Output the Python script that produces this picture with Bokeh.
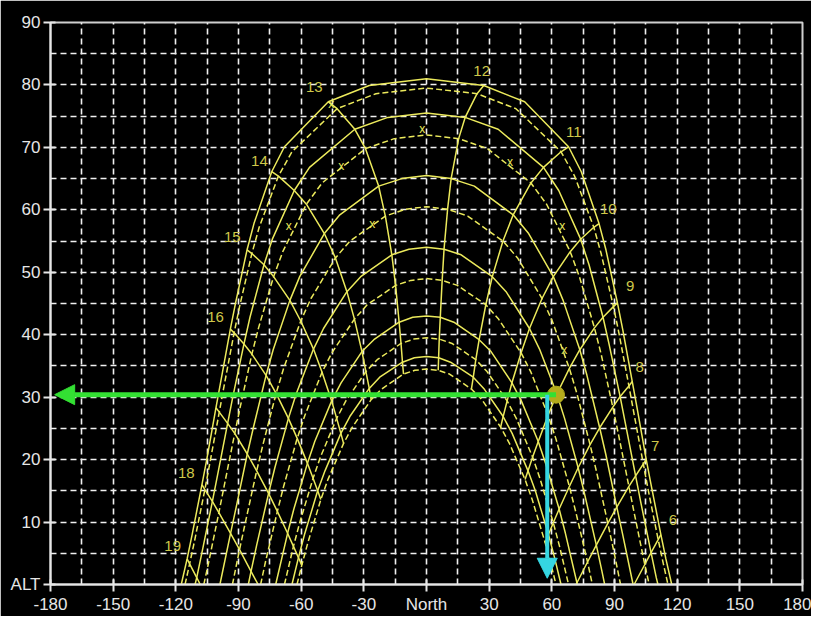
from bokeh.plotting import figure
from bokeh.models import Range1d, FixedTicker, SingleIntervalTicker, Arrow, NormalHead
from bokeh.embed import file_html
from bokeh.resources import INLINE
from bokeh.core.properties import value

# ---------------- data ----------------
# hour angle (deg from solar noon) at which every day path was read
H_STEPS = [0, 5, 10, 20, 25, 35, 40, 50, 55, 65, 70, 80, 85, 95, 100]

# day paths: azimuth (deg east of North) and altitude at H_STEPS; None = below horizon
p81_az  = [0, 27.4, 47.0, 68.0, 74.1, 82.6, 85.9, 91.4, 93.9, 98.5, 100.8, 105.2, 107.5, 112.2, 114.6]
p81_alt = [81.0, 79.9, 77.3, 70.1, 66.1, 57.8, 53.6, 45.1, 40.9, 32.5, 28.3, 20.0, 16.0, 8.0, 4.1]
p79_az  = [0, 24.2, 42.8, 64.4, 70.9, 80.1, 83.6, 89.5, 92.1, 96.9, 99.2, 103.8, 106.1, 110.9, 113.4]
p79_alt = [79.5, 78.6, 76.2, 69.3, 65.4, 57.2, 53.0, 44.5, 40.3, 31.8, 27.6, 19.3, 15.2, 7.2, 3.3]
p75_az  = [0, 18.5, 34.3, 56.0, 63.3, 73.8, 77.8, 84.5, 87.4, 92.7, 95.2, 100.1, 102.5, 107.5, 110.0]
p75_alt = [75.5, 74.8, 72.9, 66.8, 63.1, 55.3, 51.2, 42.8, 38.5, 30.1, 25.8, 17.4, 13.3, 5.1, 1.1]
p72_az  = [0, 15.4, 29.2, 50.0, 57.5, 68.8, 73.2, 80.4, 83.6, 89.2, 91.8, 96.9, 99.4, 104.5, None]
p72_alt = [72.0, 71.4, 69.8, 64.3, 60.9, 53.3, 49.3, 41.1, 36.9, 28.4, 24.2, 15.7, 11.5, 3.2, None]
p65_az  = [0, 11.8, 22.9, 41.5, 48.9, 60.7, 65.4, 73.4, 76.8, 82.9, 85.8, 91.1, 93.8, None, None]
p65_alt = [65.5, 65.0, 63.8, 59.2, 56.2, 49.3, 45.5, 37.6, 33.5, 25.1, 20.9, 12.4, 8.2, None, None]
p60_az  = [0, 10.1, 19.7, 36.6, 43.6, 55.3, 60.2, 68.4, 72.0, 78.3, 81.3, 86.8, 89.5, None, None]
p60_alt = [60.5, 60.1, 59.0, 55.0, 52.3, 45.8, 42.2, 34.6, 30.6, 22.4, 18.2, 9.8, 5.6, None, None]
p54_az  = [0, 8.4, 16.6, 31.5, 38.1, 49.3, 54.1, 62.4, 66.1, 72.6, 75.6, 81.3, 84.0, None, None]
p54_alt = [54.0, 53.7, 52.8, 49.3, 46.9, 41.0, 37.7, 30.5, 26.6, 18.7, 14.6, 6.3, 2.1, None, None]
p49_az  = [0, 7.5, 14.8, 28.4, 34.5, 45.3, 50.0, 58.2, 61.9, 68.4, 71.4, 77.1, None, None, None]
p49_alt = [49.0, 48.7, 47.9, 44.8, 42.5, 37.1, 34.0, 27.1, 23.4, 15.7, 11.7, 3.6, None, None, None]
p43_az  = [0, 6.6, 13.1, 25.2, 30.9, 40.9, 45.4, 53.5, 57.0, 63.5, 66.5, None, None, None, None]
p43_alt = [43.0, 42.8, 42.0, 39.2, 37.3, 32.3, 29.4, 22.9, 19.4, 12.1, 8.2, None, None, None, None]
p39_az  = [0, 6.1, 12.2, 23.6, 29.0, 38.6, 43.0, 50.8, 54.3, 60.7, 63.7, None, None, None, None]
p39_alt = [39.5, 39.3, 38.6, 36.0, 34.1, 29.4, 26.6, 20.4, 17.0, 9.9, 6.1, None, None, None, None]
p36_az  = [0, 5.8, 11.5, 22.4, 27.4, 36.7, 41.0, 48.6, 52.1, 58.4, 61.3, None, None, None, None]
p36_alt = [36.5, 36.3, 35.6, 33.2, 31.4, 26.9, 24.2, 18.2, 15.0, 8.0, 4.3, None, None, None, None]
p34_az  = [0, 5.6, 11.0, 21.5, 26.5, 35.5, 39.7, 47.2, 50.6, 56.8, 59.7, None, None, None, None]
p34_alt = [34.5, 34.3, 33.7, 31.3, 29.6, 25.2, 22.6, 16.8, 13.6, 6.7, 3.1, None, None, None, None]

paths_az  = [p81_az, p79_az, p75_az, p72_az, p65_az, p60_az, p54_az, p49_az, p43_az, p39_az, p36_az, p34_az]
paths_alt = [p81_alt, p79_alt, p75_alt, p72_alt, p65_alt, p60_alt, p54_alt, p49_alt, p43_alt, p39_alt, p36_alt, p34_alt]
path_set_az = [117.4, 115.6, 110.8, 106.6, 98.9, 92.9, 85.3, 79.4, 72.2, 68.0, 64.4, 62.0]
path_dashed = [False, True, False, True, False, True, False, True, False, True, False, True]

# hour lines (clock hours)
hour_clock   = [6, 7, 8, 9, 10, 11, 12, 13, 14, 15, 16, 17, 18, 19]
hour_H       = [95, 80, 65, 50, 35, 20, 5, 10, 25, 40, 55, 70, 85, 100]
hour_side    = [1, 1, 1, 1, 1, 1, 1, -1, -1, -1, -1, -1, -1, -1]
hour_horizon = [99.4, 71.6, None, None, None, None, None, None, None, None, None, None, 80.6, 108.3]

# hour labels (the "17" label is hidden under the green arrow in the original)
label_text = ["6", "7", "8", "9", "10", "11", "12", "13", "14", "15", "16", "18", "19"]
label_az   = [118.0, 109.5, 102.0, 97.5, 87.0, 70.5, 26.4, -53.7, -80.0, -93.0, -101.0, -115.0, -121.5]
label_alt  = [10.4, 22.2, 34.9, 47.8, 60.1, 72.4, 82.2, 79.6, 67.9, 55.7, 42.9, 17.9, 6.2]

# small "x" marks
mark_az  = [-45.6, -40.8, -26.0, -66.0, 40.0, 65.0, 66.0, -2.0]
mark_alt = [76.9, 67.0, 57.7, 57.4, 67.6, 57.4, 37.5, 73.0]

# axes
alt_ticks = [0, 10, 20, 30, 40, 50, 60, 70, 80, 90]
alt_labels = ["ALT", "10", "20", "30", "40", "50", "60", "70", "80", "90"]
az_ticks = [-180, -150, -120, -90, -60, -30, 0, 30, 60, 90, 120, 150, 180]
az_labels = ["-180", "-150", "-120", "-90", "-60", "-30", "North", "30", "60", "90", "120", "150", "180"]

# reading marker and arrows
sun_az, sun_alt = 62.0, 30.4
green_end_az = -178.0
cyan_az, cyan_end_alt = 57.8, 1.0

# ---------------- figure ----------------
YELLOW = "#ecea5c"
LABEL_YELLOW = "#cfc84a"
AXIS_GREY = "#e6e6e6"

p = figure(width=811, height=616, x_range=Range1d(-180, 180), y_range=Range1d(0, 90),
           output_backend="svg", toolbar_location=None, title=None,
           background_fill_color="black", border_fill_color="black",
           min_border_left=50, min_border_right=9, min_border_top=22, min_border_bottom=30,
           x_axis_location="below", y_axis_location="left")

p.outline_line_color = "#cfcfcf"
p.outline_line_width = 2

for ax, ticks, labels in ((p.xaxis[0], az_ticks, az_labels), (p.yaxis[0], alt_ticks, alt_labels)):
    ax.ticker = FixedTicker(ticks=ticks)
    ax.major_label_overrides = {t: l for t, l in zip(ticks, labels)}
    ax.axis_line_color = AXIS_GREY
    ax.axis_line_width = 2
    ax.major_tick_line_color = AXIS_GREY
    ax.major_tick_line_width = 2
    ax.major_tick_out = 7
    ax.major_tick_in = 5
    ax.minor_tick_line_color = None
    ax.major_label_text_color = AXIS_GREY
    ax.major_label_text_font = "Liberation Sans"
    ax.major_label_text_font_size = "17px"
    ax.major_label_standoff = 3

p.xgrid.ticker = SingleIntervalTicker(interval=15, num_minor_ticks=0)
p.ygrid.ticker = SingleIntervalTicker(interval=5, num_minor_ticks=0)
for g in (p.xgrid, p.ygrid):
    g.grid_line_color = "#f0f0f0"
    g.grid_line_width = 1.6
    g.grid_line_dash = "6 4"

# day paths
for az, alt, set_az, dashed in zip(paths_az, paths_alt, path_set_az, path_dashed):
    east = [(a, h) for a, h in zip(az, alt) if h is not None] + [(set_az, 0.0)]
    west = [(-a, h) for a, h in reversed(east[1:])]
    pts = west + east
    p.line([q[0] for q in pts], [q[1] for q in pts], line_color=YELLOW, line_width=1.5,
           line_dash="6 3" if dashed else "solid")

# hour lines
for H, side, hor in zip(hour_H, hour_side, hour_horizon):
    k = H_STEPS.index(H)
    xs, ys = [], []
    for az, alt in zip(paths_az, paths_alt):
        if alt[k] is not None:
            xs.append(side * az[k])
            ys.append(alt[k])
    if hor is not None:
        xs.append(side * hor)
        ys.append(0.0)
    p.line(xs, ys, line_color=YELLOW, line_width=1.5)

p.text(label_az, label_alt, text=label_text, text_color=LABEL_YELLOW,
       text_font=value("Liberation Sans"), text_font_size="15px",
       text_align="center", text_baseline="middle")
p.text(mark_az, mark_alt, text=["x"] * len(mark_az), text_color=YELLOW,
       text_font=value("Liberation Sans"), text_font_size="12px",
       text_align="center", text_baseline="middle")

# arrows
GREEN = "#33e033"
CYAN = "#35d6e2"
p.add_layout(Arrow(end=NormalHead(size=20, fill_color=GREEN, line_color=GREEN),
                   x_start=sun_az, y_start=sun_alt, x_end=green_end_az, y_end=sun_alt,
                   line_color=GREEN, line_width=5))
p.add_layout(Arrow(end=NormalHead(size=20, fill_color=CYAN, line_color=CYAN),
                   x_start=cyan_az, y_start=sun_alt, x_end=cyan_az, y_end=cyan_end_alt,
                   line_color=CYAN, line_width=4))
p.scatter([sun_az], [sun_alt], size=17, marker="circle", fill_color="#b4ac1c", line_color="#b4ac1c")

open("out.html", "w").write(file_html(p, INLINE))
